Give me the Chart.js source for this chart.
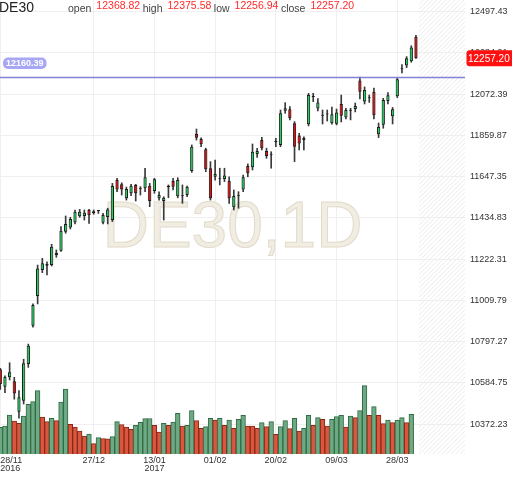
<!DOCTYPE html>
<html>
<head>
<meta charset="utf-8">
<script src="https://cdn.jsdelivr.net/npm/chart.js@4.4.1/dist/chart.umd.min.js"></script>
<style>
  html, body { margin: 0; padding: 0; background: #fff; }
  #wrap { position: relative; width: 512px; height: 477px; overflow: hidden; font-family: "Liberation Sans", Arial, sans-serif; }
  #chart { position: absolute; left: 0; top: 0; }
  #sym { position: absolute; left: -1px; top: 0; font-size: 14px; line-height: 14px; color: #222; }
  #ohlc { position: absolute; left: 68px; top: 0; display: flex; white-space: nowrap; font-size: 10.5px; line-height: 10.5px; }
  #ohlc .lab { color: #444; margin-right: 5px; position: relative; top: 2.8px; }
  #ohlc .val { color: #ff2a2a; margin-right: 2.5px; }
</style>
</head>
<body>
<div id="wrap">
  <canvas id="chart" width="512" height="477"></canvas>
  <div id="sym"></div>
  <div id="ohlc"></div>
</div>
<script>
const SYMBOL = 'DE30';
const TIMEFRAME = '1D';

const DATES = [
  '28/11/2016','29/11/2016','30/11/2016','01/12/2016','02/12/2016',
  '05/12/2016','06/12/2016','07/12/2016','08/12/2016','09/12/2016',
  '12/12/2016','13/12/2016','14/12/2016','15/12/2016','16/12/2016',
  '19/12/2016','20/12/2016','21/12/2016','22/12/2016','23/12/2016',
  '27/12/2016','28/12/2016','29/12/2016','30/12/2016',
  '02/01/2017','03/01/2017','04/01/2017','05/01/2017','06/01/2017',
  '09/01/2017','10/01/2017','11/01/2017','12/01/2017','13/01/2017',
  '16/01/2017','17/01/2017','18/01/2017','19/01/2017','20/01/2017',
  '23/01/2017','24/01/2017','25/01/2017','26/01/2017','27/01/2017',
  '30/01/2017','31/01/2017',
  '01/02/2017','02/02/2017','03/02/2017',
  '06/02/2017','07/02/2017','08/02/2017','09/02/2017','10/02/2017',
  '13/02/2017','14/02/2017','15/02/2017','16/02/2017','17/02/2017',
  '20/02/2017','21/02/2017','22/02/2017','23/02/2017','24/02/2017',
  '27/02/2017','28/02/2017',
  '01/03/2017','02/03/2017','03/03/2017',
  '06/03/2017','07/03/2017','08/03/2017','09/03/2017','10/03/2017',
  '13/03/2017','14/03/2017','15/03/2017','16/03/2017','17/03/2017',
  '20/03/2017','21/03/2017','22/03/2017','23/03/2017','24/03/2017',
  '27/03/2017','28/03/2017','29/03/2017','30/03/2017','31/03/2017',
  '03/04/2017'
];

const OPEN = [
  10655,10565,10614,10593,10437,10493,10682,10880,11033,11167,
  11198,11192,11256,11266,11364,11385,11412,11443,11445,11476,
  11459,11470,11410,11440,11424,11630,11608,11536,11562,11605,
  11585,11588,11601,11574,11536,11522,11593,11625,11546,11546,
  11553,11677,11867,11842,11789,11691,11647,11634,11636,11627,
  11490,11546,11582,11703,11696,11764,11836,11780,11758,11826,
  11811,11987,11995,11923,11859,11848,11917,12058,11999,11961,
  11968,11923,11920,12022,11952,11987,11996,12143,12035,12051,
  12085,11866,11915,12037,11959,12062,12201,12220,12242,12368.82
];
const HIGH = [
  10660,10621,10689,10614,10545,10707,10785,10992,11192,11227,
  11209,11299,11270,11390,11445,11438,11476,11479,11476,11479,
  11476,11474,11459,11485,11613,11639,11616,11594,11608,11608,
  11596,11691,11613,11639,11570,11544,11605,11639,11642,11605,
  11599,11811,11893,11848,11794,11725,11733,11691,11691,11647,
  11579,11570,11656,11713,11816,11794,11850,11794,11776,11845,
  11991,12029,12008,11931,11871,11853,12077,12077,12050,11991,
  11991,12006,11996,12068,12000,12000,12027,12160,12110,12068,
  12104,11924,12051,12081,12004,12158,12225,12266,12322,12375.58
];
const LOW = [
  10552,10535,10600,10501,10403,10476,10665,10872,10992,11153,
  11141,11187,11232,11263,11356,11378,11404,11438,11424,11407,
  11454,11458,11404,11404,11416,11570,11553,11527,11550,11522,
  11553,11570,11493,11562,11527,11424,11539,11579,11539,11510,
  11544,11670,11836,11802,11673,11527,11630,11605,11622,11510,
  11476,11485,11570,11647,11682,11747,11785,11742,11691,11802,
  11802,11974,11940,11725,11785,11785,11909,12034,11986,11919,
  11934,11918,11914,11929,11945,11940,11981,12048,12022,12030,
  11945,11849,11897,12022,11919,12055,12182,12209,12237,12256.94
];
const CLOSE = [
  10579,10617,10640,10531,10511,10686,10777,10986,11175,11201,
  11189,11287,11244,11369,11404,11429,11467,11467,11462,11449,
  11469,11471,11450,11478,11599,11582,11582,11584,11601,11562,
  11589,11644,11522,11634,11553,11539,11601,11596,11630,11550,
  11596,11802,11848,11814,11686,11536,11661,11637,11653,11536,
  11548,11550,11644,11665,11776,11780,11794,11754,11761,11829,
  11974,12000,11948,11802,11819,11836,12068,12061,12030,11964,
  11971,11969,11978,11962,11991,11990,12012,12085,12094,12054,
  11964,11903,12043,12067,11995,12150,12204,12257,12313,12257.20
];
// volume in arbitrary units (last, unfinished day has no bar)
const VOLUME = [
  26700,28000,39000,33000,30700,38000,49700,52300,63300,37000,
  32300,35700,33300,52000,65000,29700,27000,23000,18000,20000,
  10300,16300,15300,15200,17300,32300,29300,27000,24700,28700,
  31700,35300,35500,28700,22000,30700,28700,32000,40700,28000,
  28700,43300,33300,25700,27300,35700,34000,35700,28700,34000,
  25700,34700,38700,28000,27800,25700,31300,27300,32300,19700,
  27300,33300,25300,35700,23000,25700,38700,28700,36300,34700,
  28000,34700,37300,38700,27000,38000,36300,43300,68300,38700,
  47300,38700,30300,34000,31300,34000,36300,31300,39700,null
];

const PRICE_TICKS = [10372.23,10584.75,10797.27,11009.79,11222.31,11434.83,11647.35,11859.87,12072.39,12284.91,12497.43];
const X_TICK_DATES = ['28/11/2016','27/12/2016','13/01/2017','01/02/2017','20/02/2017','09/03/2017','28/03/2017'];
const LEVEL = 12160.39;

const PRICE_MIN = 10218.7, PRICE_MAX = 12557.7;
const VOL_MAX = 454000;
const X_MIN = -0.06, X_MAX = 99.5;

const last = DATES.length - 1;
const FONT = '"Liberation Sans", Arial, sans-serif';

// header
document.getElementById('sym').textContent = SYMBOL;
const head = document.getElementById('ohlc');
[['open', OPEN], ['high', HIGH], ['low', LOW], ['close', CLOSE]].forEach(function (p) {
  let l = document.createElement('span'); l.className = 'lab'; l.textContent = p[0];
  let v = document.createElement('span'); v.className = 'val'; v.textContent = p[1][last].toFixed(2);
  head.appendChild(l); head.appendChild(v);
});

const isUp = i => CLOSE[i] >= OPEN[i];
const volUp = i => i === 0 || VOLUME[i] >= VOLUME[i - 1];

const xTickIdx = X_TICK_DATES.map(d => DATES.indexOf(d));

// scales should not reserve room for half labels at the edges
const noPad = s => { s.paddingTop = 0; s.paddingBottom = 0; s.paddingLeft = 0; s.paddingRight = 0; };

const decor = {
  id: 'decor',
  beforeDatasetsDraw(chart) {
    const { ctx, chartArea: a, scales } = chart;
    const x = scales.x;
    // future (empty) area hatch
    const hx = x.getPixelForValue(last + 0.65);
    ctx.save();
    ctx.beginPath(); ctx.rect(hx, a.top, a.right - hx, a.bottom - a.top); ctx.clip();
    ctx.strokeStyle = '#ececec'; ctx.lineWidth = 1;
    const h = a.bottom - a.top;
    for (let k = -h; k < a.right - hx + 5; k += 4.5) {
      ctx.beginPath(); ctx.moveTo(hx + k, a.bottom); ctx.lineTo(hx + k + h, a.top); ctx.stroke();
    }
    ctx.restore();
    // watermark
    ctx.save();
    ctx.font = '64px ' + FONT;
    ctx.textAlign = 'center'; ctx.textBaseline = 'alphabetic';
    ctx.fillStyle = '#f1ede3'; ctx.strokeStyle = '#e2dccb'; ctx.lineWidth = 1;
    const cx = (a.left + a.right) / 2, cy = (a.top + a.bottom) / 2 + 20;
    ctx.fillText(SYMBOL + ',' + TIMEFRAME, cx, cy);
    ctx.strokeText(SYMBOL + ',' + TIMEFRAME, cx, cy);
    ctx.restore();
  },
  afterDatasetsDraw(chart) {
    const { ctx, chartArea: a, scales } = chart;
    const ly = Math.round(scales.y.getPixelForValue(LEVEL)) + 0.5;
    ctx.save();
    ctx.strokeStyle = '#8383d6'; ctx.lineWidth = 1.5;
    ctx.beginPath(); ctx.moveTo(a.left, ly); ctx.lineTo(a.right, ly); ctx.stroke();
    ctx.font = 'bold 9px ' + FONT;
    const txt = LEVEL.toFixed(2);
    const w = ctx.measureText(txt).width + 6;
    ctx.fillStyle = '#a7a7f5';
    ctx.beginPath(); ctx.roundRect(a.left + 3, ly - 20, w, 11.5, 5); ctx.fill();
    ctx.fillStyle = '#fff'; ctx.textBaseline = 'middle'; ctx.textAlign = 'left';
    ctx.fillText(txt, a.left + 6, ly - 14);
    ctx.restore();
  },
  afterDraw(chart) {
    const { ctx, chartArea: a, scales } = chart;
    const py = scales.y.getPixelForValue(CLOSE[last]);
    ctx.save();
    ctx.fillStyle = '#ff0f0f';
    ctx.beginPath(); ctx.roundRect(a.right + 1.5, py - 8, 52, 16, 3); ctx.fill();
    ctx.fillStyle = '#fff'; ctx.font = '10px ' + FONT;
    ctx.textBaseline = 'middle'; ctx.textAlign = 'left';
    ctx.fillText(CLOSE[last].toFixed(2), a.right + 3, py + 0.5);
    ctx.restore();
  }
};

new Chart(document.getElementById('chart'), {
  type: 'bar',
  data: {
    datasets: [
      {
        label: 'volume',
        yAxisID: 'yVol',
        order: 3,
        data: VOLUME.map((v, i) => ({ x: i, y: v })),
        backgroundColor: VOLUME.map((v, i) => volUp(i) ? '#6da982' : '#d9573f'),
        borderColor: VOLUME.map((v, i) => volUp(i) ? '#2f6b45' : '#8a2818'),
        borderWidth: 1,
        barPercentage: 1,
        categoryPercentage: 1,
        grouped: false
      },
      {
        label: 'wick',
        yAxisID: 'y',
        order: 2,
        data: DATES.map((d, i) => ({ x: i, y: [LOW[i], HIGH[i]] })),
        backgroundColor: '#3a3a3a',
        barThickness: 1,
        grouped: false
      },
      {
        label: 'body',
        yAxisID: 'y',
        order: 1,
        data: DATES.map((d, i) => ({ x: i, y: [OPEN[i], CLOSE[i]] })),
        backgroundColor: DATES.map((d, i) => isUp(i) ? '#1fd35c' : '#ee0a0a'),
        borderColor: '#1a1a1a',
        borderWidth: 1,
        borderSkipped: false,
        minBarLength: 1,
        barPercentage: 0.7,
        categoryPercentage: 1,
        grouped: false
      }
    ]
  },
  options: {
    responsive: false,
    animation: false,
    layout: { padding: 0 },
    plugins: { legend: { display: false }, tooltip: { enabled: false } },
    scales: {
      x: {
        type: 'linear',
        min: X_MIN,
        max: X_MAX,
        offset: false,
        afterBuildTicks: s => { s.ticks = xTickIdx.concat([X_MAX]).map(v => ({ value: v })); },
        afterFit: s => { s.height = 23; noPad(s); },
        grid: {
          offset: false,
          drawTicks: false,
          color: c => (c.tick && c.tick.value > last) ? 'rgba(0,0,0,0)' : '#efefef'
        },
        border: { display: false },
        ticks: {
          autoSkip: false,
          maxRotation: 0,
          align: 'inner',
          padding: 2,
          color: '#333',
          font: { family: FONT, size: 9, lineHeight: 0.95 },
          callback: function (v, k) {
            const i = xTickIdx[k];
            if (i === undefined) return '';
            const d = DATES[i];
            const prev = k > 0 ? DATES[xTickIdx[k - 1]] : null;
            if (!prev || prev.slice(6) !== d.slice(6)) return [d.slice(0, 5), d.slice(6)];
            return d.slice(0, 5);
          }
        }
      },
      y: {
        position: 'right',
        min: PRICE_MIN,
        max: PRICE_MAX,
        afterBuildTicks: s => { s.ticks = PRICE_TICKS.map(v => ({ value: v })); },
        afterFit: s => { s.width = 47; noPad(s); },
        grid: { drawTicks: false, color: '#efefef' },
        border: { display: false },
        ticks: {
          padding: 5,
          color: '#333',
          font: { family: FONT, size: 9 },
          callback: v => v.toFixed(2)
        }
      },
      yVol: {
        display: false,
        min: 0,
        max: VOL_MAX
      }
    }
  },
  plugins: [decor]
});
</script>
</body>
</html>
